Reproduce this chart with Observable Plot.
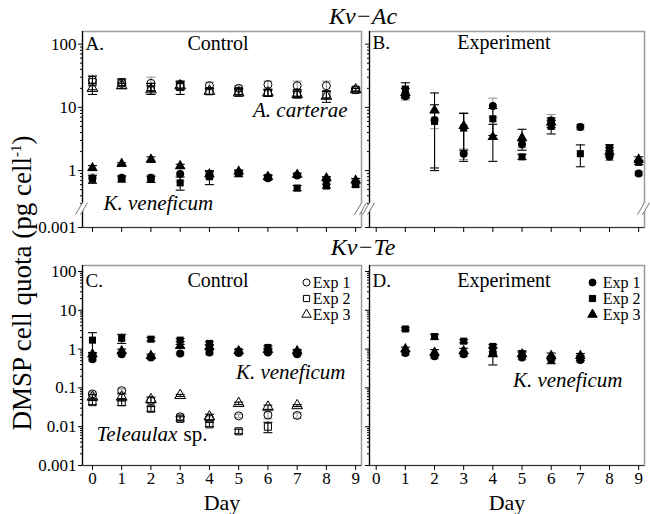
<!DOCTYPE html>
<html><head><meta charset="utf-8">
<script src="https://cdn.jsdelivr.net/npm/d3@7"></script>
<script src="https://cdn.jsdelivr.net/npm/@observablehq/plot@0.6"></script>
<style>
body{margin:0;background:#fff;}
#wrap{position:relative;width:650px;height:514px;font-family:"Liberation Serif","DejaVu Serif",serif;color:#000;overflow:hidden;}
#wrap svg text{font-family:"Liberation Serif","DejaVu Serif",serif !important;}
.p{position:absolute;}
.title{position:absolute;font-style:italic;font-size:24px;transform:translate(-50%,-50%);white-space:nowrap;}
.ylab{position:absolute;font-size:27px;white-space:nowrap;transform:translate(-50%,-50%) rotate(-90deg);}
.ylab sup{font-size:15px;}
</style></head><body><div id="wrap"></div>
<script>
// ---------- categories / ticks ----------
const daysA = [0,1,2,3,4,5,6,7,8,9];
const daysB = [1,2,3,4,5,6,7,8,9];
const daysC = [0,1,2,3,4,5,6,7];
const daysD = [1,2,3,4,5,6,7];
const xTicks = [0,1,2,3,4,5,6,7,8,9];
const expNames = ["Exp 1","Exp 2","Exp 3"];
const yTicksTop = [100,10,1,0.001];
const yTicksBottom = [100,10,1,0.1,0.01,0.001];
const breakValue = 0.25;

// ---------- Panel A: Kv-Ac control ----------
// A. carterae (open symbols)
const aCart1   = [27,24,24,23,22,20,23,22,22,19];
const aCart1Sd = [5,2,6,3,3,2,3,4,4,1];
const aCart2   = [25,25,21,21,18,18,17,17,16,19];
const aCart2Sd = [6,3,3,5,2,2,2,2,2,1];
const aCart3   = [20,22,19,22,18,17,17,16,15,19];
const aCart3Sd = [4,2,3,3,2,2,2,2,3,1];
// K. veneficum (filled symbols)
const aKv1   = [0.76,0.77,0.77,0.88,0.85,0.92,0.76,0.84,0.72,0.65];
const aKv1Sd = [0.12,0.06,0.08,0.2,0.1,0.08,0.05,0.05,0.04,0.05];
const aKv2   = [0.73,0.74,0.73,0.64,0.80,0.90,0.78,0.53,0.57,0.60];
const aKv2Sd = [0.1,0.08,0.08,0.15,0.2,0.1,0.06,0.05,0.04,0.05];
const aKv3   = [1.1,1.28,1.5,1.18,0.88,0.97,0.80,0.86,0.76,0.70];
const aKv3Sd = [0.1,0.05,0.15,0.08,0.08,0.05,0.05,0.05,0.04,0.05];

// ---------- Panel B: Kv-Ac experiment ----------
const bKv1   = [15,6.3,1.85,10.5,2.6,6.2,4.9,1.65,0.9];
const bKv1Sd = [2,1.7,0.35,3.5,0.3,1.5,0.5,0.2,0.07];
const bKv2   = [19.5,6.0,4.7,6.6,1.65,5.0,1.85,2.3,1.35];
const bKv2Sd = [5,5,3.3,3,0.15,1.2,0.7,0.25,0.1];
const bKv3   = [17,9.0,5.1,3.4,3.3,5.8,null,2.0,1.5];
const bKv3Sd = [3,7.9,3,2,1.2,1,0,0.3,0.15];

// ---------- Panel C: Kv-Te control ----------
const cKv1   = [0.55,0.74,0.61,0.77,0.82,0.79,0.82,0.74];
const cKv1Sd = [0.06,0.06,0.06,0.06,0.1,0.08,0.08,0.06];
const cKv2   = [1.7,1.9,1.8,1.7,1.4,0.87,1.1,0.82];
const cKv2Sd = [0.95,0.5,0.2,0.15,0.15,0.1,0.12,0.08];
const cKv3   = [0.74,0.9,0.67,1.2,1.15,0.9,0.96,0.9];
const cKv3Sd = [0.08,0.1,0.08,0.12,0.15,0.08,0.1,0.08];
// Teleaulax sp. (open symbols)
const cTel1   = [0.07,0.085,0.047,0.018,0.016,0.019,0.02,0.0195];
const cTel1Sd = [0.008,0.01,0.008,0.003,0.002,0.002,0.004,0.003];
const cTel2   = [0.043,0.043,0.029,0.016,0.0115,0.0076,0.010,null];
const cTel2Sd = [0.006,0.008,0.004,0.002,0.0015,0.001,0.003,0];
const cTel3   = [0.058,0.058,0.05,0.064,0.018,0.04,0.032,0.035];
const cTel3Sd = [0.01,0.012,0.008,0.004,0.003,0.003,0.004,0.002];

// ---------- Panel D: Kv-Te experiment ----------
const dKv1   = [0.79,0.65,0.74,0.79,0.61,0.59,0.52];
const dKv1Sd = [0.1,0.08,0.1,0.1,0.08,0.08,0.07];
const dKv2   = [3.3,2.1,1.6,1.17,0.77,0.52,0.59];
const dKv2Sd = [0.25,0.3,0.15,0.12,0.12,0.1,0.08];
const dKv3   = [1.0,0.82,0.9,0.74,0.74,0.67,0.67];
const dKv3Sd = [0.12,0.15,0.15,0.35,0.1,0.12,0.1];

// ---------- drawing ----------
const SYM = ["circle","square","triangle"];
const ERRCOL = ["#9a9a9a","#000000","#000000"];
const capSym = {draw(c){c.moveTo(-4.5,0);c.lineTo(4.5,0);}};
const eraseSym = {draw(c){c.moveTo(-7,6);c.lineTo(0,-6);c.lineTo(5,-6);c.lineTo(-2,6);c.closePath();}};
const slashSym = {draw(c){c.moveTo(-7,6);c.lineTo(0,-6);c.moveTo(-2,6);c.lineTo(5,-6);}};
const FONT = "Liberation Serif, DejaVu Serif, serif";

function rowsOf(days, vals, sds, exp, open){
  return days.map((d,i)=>({day:d, v:vals[i], sd:sds[i], exp, open}))
    .filter(r=>r.v!=null)
    .map(r=>({...r, y:Math.log10(r.v), hi:Math.log10(r.v+r.sd), lo:Math.log10(Math.max(r.v-r.sd, r.v*0.08))}));
}

function minorTicks(decades){
  const out=[];
  for(const d of decades) for(let k=2;k<=9;k++) out.push(Math.log10(k*d));
  return out;
}

function panel(cfg){
  const rows = cfg.series.flatMap(s=>rowsOf(s.days,s.vals,s.sds,s.exp,s.open));
  const tickPos = cfg.top ? (v => v===0.001 ? cfg.yDomain[0] : Math.log10(v)) : (v=>Math.log10(v));
  const majors = cfg.yTicks.map(tickPos);
  const labelOf = new Map(cfg.yTicks.map(v=>[tickPos(v), String(v)]));
  const marks = [
    Plot.frame({stroke:"#9a9a9a", strokeWidth:1.5}),
    Plot.ruleX([cfg.xDomain[0]], {stroke:"#000", strokeWidth:1.2}),
    Plot.ruleY([cfg.yDomain[0]], {stroke:"#333", strokeWidth:1.2}),
    Plot.axisY({ticks: majors, tickSize:4, tickPadding:2, label:null,
      tickFormat: cfg.yLabels ? (t=>labelOf.get(t)) : (()=>""), fontSize:17, fontFamily:FONT}),
    Plot.axisY({ticks: cfg.minor, tickSize:2, label:null, tickFormat:()=>""}),
    Plot.axisX({ticks: xTicks, tickSize:5, tickPadding:1, label:null,
      tickFormat: cfg.xLabels ? (d=>String(d)) : (()=>""), fontSize:17, fontFamily:FONT}),
  ];
  for (const e of [0,1,2]) {
    const sub = rows.filter(r=>r.exp===e);
    marks.push(Plot.ruleX(sub, {x:"day", y1:"lo", y2:"hi", stroke:ERRCOL[e], strokeWidth:1.1}));
    marks.push(Plot.dot(sub, {x:"day", y:"hi", symbol:capSym, stroke:ERRCOL[e], strokeWidth:1.1}));
    marks.push(Plot.dot(sub, {x:"day", y:"lo", symbol:capSym, stroke:ERRCOL[e], strokeWidth:1.1}));
  }
  for (const e of [0,1,2]) {
    const open = rows.filter(r=>r.exp===e && r.open);
    const filled = rows.filter(r=>r.exp===e && !r.open);
    marks.push(Plot.dot(open, {x:"day", y:"y", symbol:SYM[e], r:4, stroke:"#000", fill:"none", strokeWidth:1}));
    marks.push(Plot.dot(filled, {x:"day", y:"y", symbol:SYM[e], r:4, fill:"#000", stroke:"none"}));
  }
  for (const t of cfg.texts) {
    marks.push(Plot.text([t.text], {text:d=>d, frameAnchor:t.anchor, lineAnchor:"middle", dx:t.dx, dy:t.dy,
      textAnchor:t.ta||"start", fontSize:t.size||20, fontFamily:FONT, fontStyle:t.italic?"italic":"normal", fill:"#000"}));
  }
  if (cfg.top) {
    const b = Math.log10(breakValue);
    const pts = [{x:cfg.xDomain[0], y:b},{x:cfg.xDomain[1], y:b}];
    marks.push(Plot.dot(pts, {x:"x", y:"y", symbol:eraseSym, fill:"#fff", stroke:"none", r:6}));
    marks.push(Plot.dot(pts, {x:"x", y:"y", symbol:slashSym, stroke:"#777", fill:"none", strokeWidth:1}));
  }
  if (cfg.legend) {
    expNames.forEach((name,i)=>{
      marks.push(Plot.dot([name], {frameAnchor:"top-right", dx:cfg.legend.sdx, dy:17+i*16, symbol:SYM[i], r:3.5,
        stroke:"#000", fill: cfg.legend.open ? "none" : "#000", strokeWidth:1}));
      marks.push(Plot.text([name], {text:d=>d, frameAnchor:"top-right", lineAnchor:"middle", dx:cfg.legend.tdx, dy:17+i*16,
        textAnchor:"end", fontSize:16, fontFamily:FONT, fill:"#000"}));
    });
  }
  const svg = Plot.plot({
    width: cfg.w, height: cfg.h,
    marginLeft: cfg.ml, marginRight: cfg.mr, marginTop: cfg.mt, marginBottom: cfg.mb,
    x: {domain: cfg.xDomain},
    y: {domain: cfg.yDomain},
    style: {fontFamily: FONT, fontSize:"17px", color:"#000", background:"transparent", overflow:"visible"},
    marks
  });
  svg.classList.add("p");
  svg.style.left = cfg.left+"px";
  svg.style.top = cfg.topPx+"px";
  document.getElementById("wrap").appendChild(svg);
}

const topDomain = [-0.9, 2.2];
const botDomain = [-3, 2.154];
const topMinor = minorTicks([0.1,1,10]).filter(v=>v>Math.log10(breakValue)+0.05);
const botMinor = minorTicks([0.001,0.01,0.1,1,10]);

panel({left:0, topPx:0, w:365, h:240, ml:82, mr:4, mt:31, mb:13, top:true,
  xDomain:[-0.34,9.2], yDomain:topDomain, yTicks:yTicksTop, minor:topMinor, yLabels:true, xLabels:false,
  series:[
    {days:daysA, vals:aCart1, sds:aCart1Sd, exp:0, open:true},
    {days:daysA, vals:aCart2, sds:aCart2Sd, exp:1, open:true},
    {days:daysA, vals:aCart3, sds:aCart3Sd, exp:2, open:true},
    {days:daysA, vals:aKv1, sds:aKv1Sd, exp:0, open:false},
    {days:daysA, vals:aKv2, sds:aKv2Sd, exp:1, open:false},
    {days:daysA, vals:aKv3, sds:aKv3Sd, exp:2, open:false}],
  texts:[
    {text:"A.", anchor:"top-left", dx:3, dy:12, size:19},
    {text:"Control", anchor:"top", dx:-4, dy:12, ta:"middle", size:20},
    {text:"A. carterae", anchor:"top-right", dx:-14, dy:79, ta:"end", italic:true, size:21},
    {text:"K. veneficum", anchor:"bottom-left", dx:21, dy:-24, italic:true, size:21}]
});

panel({left:365, topPx:0, w:285, h:240, ml:4, mr:6, mt:31, mb:13, top:true,
  xDomain:[-0.23,9.2], yDomain:topDomain, yTicks:yTicksTop, minor:topMinor, yLabels:false, xLabels:false,
  series:[
    {days:daysB, vals:bKv1, sds:bKv1Sd, exp:0, open:false},
    {days:daysB, vals:bKv2, sds:bKv2Sd, exp:1, open:false},
    {days:daysB, vals:bKv3, sds:bKv3Sd, exp:2, open:false}],
  texts:[
    {text:"B.", anchor:"top-left", dx:3, dy:11, size:19},
    {text:"Experiment", anchor:"top", dx:-3, dy:11, ta:"middle", size:20}]
});

panel({left:0, topPx:240, w:365, h:274, ml:82, mr:4, mt:25, mb:49, top:false,
  xDomain:[-0.34,9.2], yDomain:botDomain, yTicks:yTicksBottom, minor:botMinor, yLabels:true, xLabels:true,
  series:[
    {days:daysC, vals:cTel1, sds:cTel1Sd, exp:0, open:true},
    {days:daysC, vals:cTel2, sds:cTel2Sd, exp:1, open:true},
    {days:daysC, vals:cTel3, sds:cTel3Sd, exp:2, open:true},
    {days:daysC, vals:cKv1, sds:cKv1Sd, exp:0, open:false},
    {days:daysC, vals:cKv2, sds:cKv2Sd, exp:1, open:false},
    {days:daysC, vals:cKv3, sds:cKv3Sd, exp:2, open:false}],
  texts:[
    {text:"C.", anchor:"top-left", dx:3, dy:15, size:19},
    {text:"Control", anchor:"top", dx:-4, dy:15, ta:"middle", size:20},
    {text:"K. veneficum", anchor:"top-right", dx:-16, dy:107, ta:"end", italic:true, size:21},
    {text:"Teleaulax", anchor:"bottom-left", dx:14, dy:-31, italic:true, size:21},
    {text:"sp.", anchor:"bottom-left", dx:101, dy:-31, size:21},
    {text:"Day", anchor:"bottom", dx:0, dy:37, ta:"middle", size:22}],
  legend:{open:true, sdx:-55, tdx:-11}
});

panel({left:365, topPx:240, w:285, h:274, ml:4, mr:6, mt:25, mb:49, top:false,
  xDomain:[-0.23,9.2], yDomain:botDomain, yTicks:yTicksBottom, minor:botMinor, yLabels:false, xLabels:true,
  series:[
    {days:daysD, vals:dKv1, sds:dKv1Sd, exp:0, open:false},
    {days:daysD, vals:dKv2, sds:dKv2Sd, exp:1, open:false},
    {days:daysD, vals:dKv3, sds:dKv3Sd, exp:2, open:false}],
  texts:[
    {text:"D.", anchor:"top-left", dx:3, dy:15, size:19},
    {text:"Experiment", anchor:"top", dx:-3, dy:15, ta:"middle", size:20},
    {text:"K. veneficum", anchor:"top-right", dx:-22, dy:115, ta:"end", italic:true, size:21},
    {text:"Day", anchor:"bottom", dx:0, dy:37, ta:"middle", size:22}],
  legend:{open:false, sdx:-52, tdx:-4}
});

// titles and shared y label
const wrap = document.getElementById("wrap");
function addDiv(cls, html, x, y){ const d=document.createElement("div"); d.className=cls; d.innerHTML=html; d.style.left=x+"px"; d.style.top=y+"px"; wrap.appendChild(d); }
addDiv("title", "Kv\u2212Ac", 363, 16);
addDiv("title", "Kv\u2212Te", 363, 247);
addDiv("ylab", "DMSP cell quota (pg cell<sup>-1</sup>)", 22, 283);
</script>
</body></html>
